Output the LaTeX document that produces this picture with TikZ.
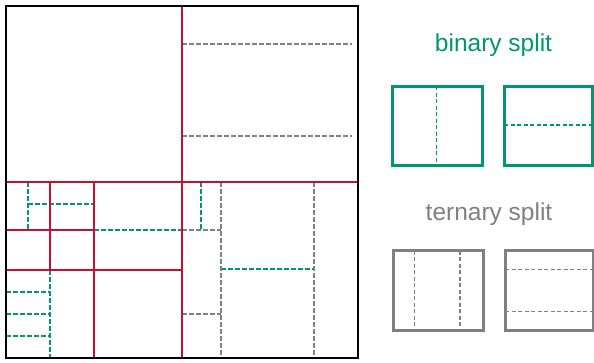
\documentclass[tikz,border=0pt]{standalone}
\usepackage{fontspec}
\setmainfont{Liberation Sans}
\definecolor{qtred}{RGB}{200,16,46}
\definecolor{btgreen}{RGB}{0,150,112}
\definecolor{ttgray}{RGB}{128,128,128}
\begin{document}
\begin{tikzpicture}[x=1pt,y=-1pt,
  border/.style={draw=black,line width=2.4pt},
  qt/.style={draw=qtred,line width=2.3pt},
  bt/.style={draw=btgreen,line width=2pt,dash pattern=on 4.5pt off 2.5pt},
  tt/.style={draw=ttgray,line width=2pt,dash pattern=on 4.5pt off 2.5pt},
  btbox/.style={draw=btgreen,line width=3pt},
  ttbox/.style={draw=ttgray,line width=3pt},
  btsplit/.style={draw=btgreen,line width=1.7pt,dash pattern=on 4pt off 2.5pt},
  ttsplit/.style={draw=ttgray,line width=1.7pt,dash pattern=on 4pt off 2.5pt},
  lbl/.style={anchor=base,font=\fontsize{24.5}{28}\selectfont,inner sep=0pt}
]
\useasboundingbox (0,0) rectangle (594,362);
% binary-tree (green) splits
\draw[bt] (28,182) -- (28,230);
\draw[bt] (28,204) -- (94,204);
\draw[bt] (94,230) -- (182,230);
\draw[bt] (50,270) -- (50,358);
\draw[bt] (6,292) -- (50,292);
\draw[bt] (6,314) -- (50,314);
\draw[bt] (6,336) -- (50,336);
\draw[bt] (201,182) -- (201,230);
\draw[bt] (221,269) -- (314,269);
% ternary-tree (gray) splits
\draw[tt] (182,44) -- (352,44);
\draw[tt] (182,136) -- (352,136);
\draw[tt] (221,182) -- (221,358);
\draw[tt] (314,182) -- (314,358);
\draw[tt] (182,230) -- (221,230);
\draw[tt] (182,314) -- (221,314);
% quad-tree (red) splits
\draw[qt] (182,6) -- (182,358);
\draw[qt] (6,182) -- (358,182);
\draw[qt] (94,182) -- (94,358);
\draw[qt] (50,182) -- (50,270);
\draw[qt] (6,230) -- (94,230);
\draw[qt] (6,270) -- (182,270);
% border
\draw[border] (6,6) rectangle (358,358);
% legend
\node[lbl,text=btgreen] (binlabel) at (493.5,51.7) {binary split};
\draw[btbox] (392,86) rectangle (482,165);
\draw[btsplit] (436.5,86) -- (436.5,165);
\draw[btbox] (504,86) rectangle (592.5,165);
\draw[btsplit] (504,125) -- (592.5,125);
\node[lbl,text=ttgray] (terlabel) at (489,220.5) {ternary split};
\draw[ttbox] (393.5,250.5) rectangle (483,330.5);
\draw[ttsplit] (414.5,250.5) -- (414.5,330.5);
\draw[ttsplit] (460,250.5) -- (460,330.5);
\draw[ttbox] (505,250.5) rectangle (593,330.5);
\draw[ttsplit] (505,269.5) -- (593,269.5);
\draw[ttsplit] (505,311.5) -- (593,311.5);
\end{tikzpicture}
\end{document}
